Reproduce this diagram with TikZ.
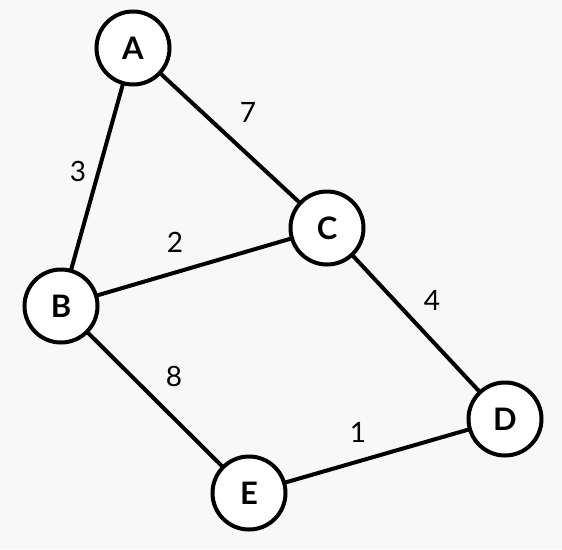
\documentclass[tikz,border=0pt]{standalone}
\usepackage{fontspec}
\setmainfont{Lato}
\usepackage{xcolor}
\definecolor{bggray}{HTML}{F8F8F8}
\tikzset{
  gr/.style={x=1pt, y=-1pt},
  g vert/.style={draw, circle, line width=4pt, fill=white, minimum size=73pt, inner sep=0pt,
                 font=\fontsize{31}{31}\selectfont\bfseries},
  g edge/.style={line width=4pt},
  g wt/.style={font=\fontsize{28}{28}\selectfont},
}
\begin{document}
\begin{tikzpicture}[gr]
\fill[bggray] (0, 0) rectangle (562, 549);
\useasboundingbox (0, 0) rectangle (562, 549);
% ---- edges ----
\coordinate (pa) at (133, 48);  \coordinate (pb) at (61, 306);
\coordinate (pc) at (327, 228); \coordinate (pd) at (505, 419);
\coordinate (pe) at (249, 493);
\draw[g edge] (pa)--(pb); \draw[g edge] (pa)--(pc); \draw[g edge] (pb)--(pc);
\draw[g edge] (pb)--(pe); \draw[g edge] (pc)--(pd); \draw[g edge] (pe)--(pd);
% ---- vertices ----
\node[g vert] (a) at (pa) {A};
\node[g vert] (b) at (pb) {B};
\node[g vert] (c) at (pc) {C};
\node[g vert] (d) at (pd) {D};
\node[g vert] (e) at (pe) {E};
% ---- weights ----
\node[g wt] (wab) at (78, 171)  {3};
\node[g wt] (wac) at (248, 112) {7};
\node[g wt] (wbc) at (175, 242) {2};
\node[g wt] (wcd) at (432, 300) {4};
\node[g wt] (wbe) at (174, 376) {8};
\node[g wt] (wed) at (358, 432) {1};
\end{tikzpicture}
\end{document}
